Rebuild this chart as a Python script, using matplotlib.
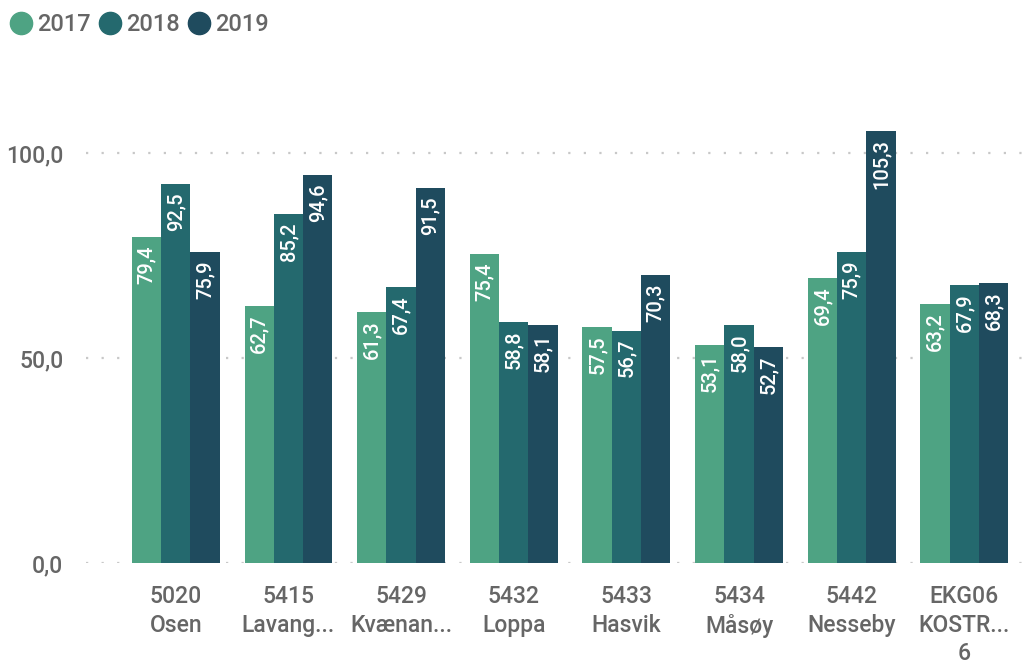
import numpy as np
import matplotlib
matplotlib.use("Agg")
import matplotlib.pyplot as plt
from matplotlib.lines import Line2D

categories = ["5020\nOsen", "5415\nLavang...", "5429\nKvænan...", "5432\nLoppa",
              "5433\nHasvik", "5434\nMåsøy", "5442\nNesseby", "EKG06\nKOSTR...\n6"]
years = ["2017", "2018", "2019"]
v2017 = [79.4, 62.7, 61.3, 75.4, 57.5, 53.1, 69.4, 63.2]
v2018 = [92.5, 85.2, 67.4, 58.8, 56.7, 58.0, 75.9, 67.9]
v2019 = [75.9, 94.6, 91.5, 58.1, 70.3, 52.7, 105.3, 68.3]
colors = ["#4EA383", "#24696E", "#1F4B5E"]

plt.rcParams["font.family"] = ["Roboto", "DejaVu Sans"]
plt.rcParams["font.weight"] = "medium"
TXT = "#666666"

fig = plt.figure(figsize=(10.32, 6.65), dpi=100)
ax = fig.add_axes([0.083, 0.1534, 0.917, 0.6782])

x = np.arange(len(categories))
w = 0.26
for i, (vals, col) in enumerate(zip([v2017, v2018, v2019], colors)):
    pos = x + (i - 1) * w
    ax.bar(pos, vals, width=w, color=col, zorder=2)
    for p, v in zip(pos, vals):
        ax.annotate(f"{v:.1f}".replace(".", ","), (p, v), xytext=(0, -6),
                    textcoords="offset points", rotation=90, ha="center", va="top",
                    color="white", fontsize=14.5, fontweight="medium", zorder=3)

ax.set_xlim(-0.8, 7.6)
ax.set_ylim(0, 110)
ax.set_yticks([0, 50, 100])
ax.set_yticklabels(["0,0", "50,0", "100,0"])
ax.yaxis.grid(True, color="#c8c8c8", linestyle=(0, (1, 6)), linewidth=1.6)
ax.set_axisbelow(True)
ax.set_xticks(x)
ax.set_xticklabels(categories, linespacing=1.3)
ax.tick_params(axis="both", length=0, labelsize=16.5, colors=TXT)
ax.tick_params(axis="x", pad=16)
ax.tick_params(axis="y", pad=16)
for s in ax.spines.values():
    s.set_visible(False)

handles = [Line2D([], [], marker="o", ls="", color=c, markersize=16) for c in colors]
fig.legend(handles, years, loc="upper left", bbox_to_anchor=(-0.012, 1.012), ncol=3,
           frameon=False, fontsize=17, labelcolor=TXT, handlelength=1.0,
           handletextpad=0.2, columnspacing=0.3)

fig.savefig("out.png", dpi=100)
